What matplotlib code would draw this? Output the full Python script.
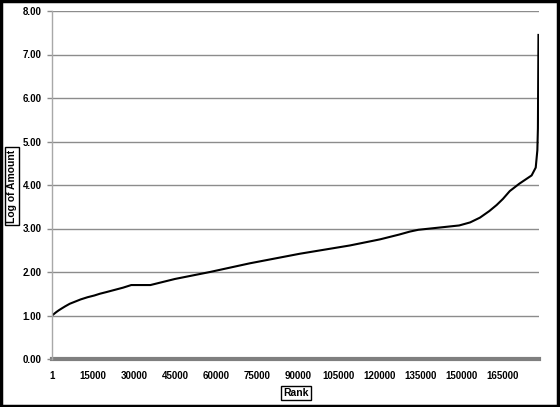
import matplotlib
matplotlib.use("Agg")
import matplotlib.pyplot as plt
from matplotlib.patches import Rectangle

rank = [1, 800, 1600, 2500, 3500, 4800, 6500, 8500, 10500, 13000, 15500,
        17500, 20000, 23000, 26000, 29000, 36000,
        45000, 57800, 72400, 90700, 109000, 120000, 127000, 131000, 134000,
        140000, 149000, 153000, 156600, 160000, 162700, 165000, 167500, 171000,
        175500, 177000, 177600, 177800, 178000]
log_amount = [1.00, 1.04, 1.08, 1.12, 1.16, 1.21, 1.27, 1.32, 1.37, 1.42, 1.46,
              1.50, 1.54, 1.59, 1.64, 1.70, 1.70,
              1.84, 2.00, 2.20, 2.42, 2.61, 2.75, 2.86, 2.93, 2.97,
              3.01, 3.07, 3.14, 3.25, 3.40, 3.54, 3.68, 3.86, 4.03,
              4.22, 4.40, 4.80, 5.30, 7.45]
x_ticks = [1, 15000, 30000, 45000, 60000, 75000, 90000, 105000, 120000,
           135000, 150000, 165000]
y_ticks = [0, 1, 2, 3, 4, 5, 6, 7, 8]

plt.rcParams['font.family'] = ['Liberation Sans', 'DejaVu Sans']

fig = plt.figure(figsize=(5.6, 4.07), dpi=100)
ax = fig.add_axes([52/560, (407-359)/407, (539-52)/560, 348/407])

ax.plot(rank, log_amount, color='black', lw=1.5, solid_joinstyle='round')

ax.set_xlim(1, 178200)
ax.set_ylim(0, 8)
ax.set_yticks(y_ticks)
ax.set_yticklabels([f"{v:.2f}" for v in y_ticks])
ax.set_xticks(x_ticks)
ax.set_xticklabels([str(v) for v in x_ticks])

for v in y_ticks[1:]:
    ax.axhline(v, color='#8c8c8c', lw=1.0, zorder=0)

for s in ['top', 'right', 'bottom']:
    ax.spines[s].set_visible(False)
ax.spines['left'].set_color('#a8a8a8')
ax.spines['left'].set_linewidth(1.0)
ax.axhline(0, color='#7f7f7f', lw=3.0, zorder=1, clip_on=False)

ax.tick_params(axis='y', length=3.5, width=1, color='#8c8c8c', pad=4,
               labelsize=7)
ax.tick_params(axis='x', length=0, pad=8.5, labelsize=7)
for lab in ax.get_xticklabels() + ax.get_yticklabels():
    lab.set_fontweight('bold')

box = dict(boxstyle='square,pad=0.2', fc='white', ec='black', lw=1)
fig.text(12/560, 1 - 186/407, 'Log of Amount', rotation=90, ha='center',
         va='center', fontsize=7.5, fontweight='bold', bbox=box)
fig.text(296/560, 1 - 393/407, 'Rank', ha='center', va='center',
         fontsize=7.5, fontweight='bold', bbox=box)

fig.patches.append(Rectangle((0.002, 0.003), 0.995, 0.994, transform=fig.transFigure,
                             fill=False, ec='black', lw=2.5))

fig.savefig('out.png', dpi=100)
